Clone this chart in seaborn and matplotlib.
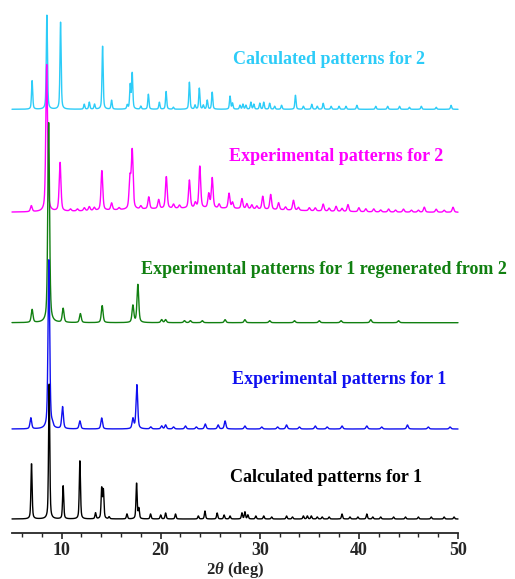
import numpy as np
import pandas as pd
import seaborn as sns
import matplotlib.pyplot as plt

# peak positions (2theta, deg) and heights, per pattern
calc2_pos = [7.03, 8.52, 9.90, 12.29, 12.80, 13.33, 14.14, 15.05, 16.63, 16.93, 17.13, 18.0, 18.76,
             19.87, 20.55, 21.28, 22.9, 23.47, 23.9, 24.3, 24.7, 25.2, 27.0, 27.25, 28.0, 28.3, 28.6,
             29.1, 29.4, 30.0, 30.4, 31.0, 31.5, 32.2, 33.6, 34.4, 35.25, 35.8, 36.4, 37.2, 38.0,
             38.7, 39.8, 41.7, 42.9, 44.1, 45.1, 46.3, 47.8, 49.3]
calc2_h = [29, 94, 87, 5, 7, 5, 63, 9, 4, 24, 36, 3, 15,
           7, 18, 2, 27, 4, 21, 4, 9, 17, 13, 6, 4, 5, 4,
           7, 5, 6, 7, 6, 3, 4, 14, 3, 5, 3, 6, 3, 3,
           3, 4, 3, 3, 3, 2, 3, 2, 4]

exp2_pos = [6.95, 8.50, 9.85, 10.9, 11.6, 12.3, 12.8, 13.3, 14.07, 15.05, 15.8, 16.9, 17.13, 18.0,
            18.8, 19.8, 20.57, 21.3, 21.9, 22.9, 23.5, 23.95, 24.85, 25.2, 25.9, 26.9, 27.25,
            28.2, 28.7, 29.2, 29.7, 30.3, 31.1, 31.9, 32.6, 33.4, 33.9, 35.0, 35.6, 36.4, 37.0,
            37.7, 38.3, 38.9, 40.0, 40.7, 41.5, 42.2, 43.0, 43.7, 44.5, 45.3, 46.0, 46.6, 47.8,
            48.6, 49.5]
exp2_h = [6, 147, 49, 2, 2, 3, 4, 3, 40, 7, 2, 30, 58, 3,
          12, 9, 32, 4, 3, 28, 5, 42, 14, 30, 4, 15, 6,
          10, 5, 4, 3, 13, 15, 7, 3, 10, 3, 3, 3, 7, 3,
          5, 3, 7, 4, 3, 3, 2, 3, 2, 3, 2, 2, 5, 3,
          2, 5]
# broad amorphous hump under pattern 2 (experimental)
exp2_bg = (24.0, 4.0, 22.0)

regen1_pos = [7.03, 8.70, 10.16, 11.9, 14.1, 17.2, 17.7, 20.1, 20.5, 22.4, 23.0, 24.2, 26.5,
              28.5, 31.0, 33.5, 36.0, 38.2, 41.2, 44.0]
regen1_h = [13, 200, 14, 9, 17, 17, 38, 3, 3, 2, 2, 2, 3,
            3, 2, 2, 2, 2, 3, 2]

exp1_pos = [6.90, 8.72, 9.07, 10.10, 11.85, 14.05, 17.2, 17.6, 19.0, 20.1, 20.5, 21.3, 22.5,
            23.6, 24.5, 25.8, 26.5, 28.5, 30.2, 31.8, 32.7, 34.0, 35.6, 36.8, 38.3, 40.8,
            42.3, 44.9, 47.0, 49.2]
exp1_h = [11, 169, 3, 22, 8, 11, 10, 44, 2, 3, 4, 2, 3,
          2, 5, 4, 8, 3, 2, 2, 4, 2, 3, 2, 3, 3,
          2, 4, 2, 2]

calc1_pos = [6.97, 8.75, 10.16, 11.85, 13.43, 14.05, 14.22, 14.8, 16.6, 17.57, 17.8, 18.98,
             20.0, 20.5, 21.5, 23.8, 24.47, 25.7, 26.4, 27.0, 28.2, 28.5, 28.8, 29.6, 30.4,
             31.2, 32.7, 33.3, 34.4, 34.8, 35.2, 35.8, 36.3, 37.0, 38.3, 39.1, 39.9, 40.8,
             41.4, 42.2, 43.5, 44.7, 46.0, 47.3, 48.6, 49.6]
calc1_h = [56, 137, 33, 59, 6, 30, 28, 2, 5, 36, 10, 5,
           4, 6, 5, 3, 8, 6, 4, 3, 6, 7, 4, 3, 3,
           2, 3, 2, 3, 3, 3, 2, 2, 2, 5, 2, 2, 5,
           2, 2, 2, 2, 2, 2, 2, 2]

names = ['Calculated patterns for 2', 'Experimental patterns for 2',
         'Experimental patterns for 1 regenerated from 2',
         'Experimental patterns for 1', 'Calculated patterns for 1']
colors = ['#2DCCF8', '#FF00FF', '#118011', '#1010F0', '#000000']
offsets = [424, 321, 210.6, 104.3, 14.3]
widths = [0.14, 0.21, 0.21, 0.20, 0.14]
peak_sets = [(calc2_pos, calc2_h), (exp2_pos, exp2_h), (regen1_pos, regen1_h),
             (exp1_pos, exp1_h), (calc1_pos, calc1_h)]
label_xy = [(329, 60), (336, 156), (324, 269), (339, 380), (326, 478)]

two_theta = np.arange(5, 50.001, 0.02)


def profile(pos, h, w):
    y = np.zeros_like(two_theta)
    for p, a in zip(pos, h):
        d = (two_theta - p) / (w / 2)
        y += a * (0.5 / (1 + d ** 2) + 0.5 * np.exp(-np.log(2) * d ** 2))
    return y


W, H = 515, 579
fig = plt.figure(figsize=(W / 100, H / 100), dpi=100)
sns.set_style('ticks')
plt.rcParams['font.family'] = ['Liberation Serif', 'DejaVu Serif']
plt.rcParams['mathtext.fontset'] = 'custom'
plt.rcParams['mathtext.it'] = 'Liberation Serif:italic:bold'
plt.rcParams['mathtext.rm'] = 'Liberation Serif:bold'

ax = fig.add_axes([12 / W, 1 - 533.3 / H, (458 - 12) / W, 533.3 / H])

for i, (name, col, off, w, (pos, h)) in enumerate(zip(names, colors, offsets, widths, peak_sets)):
    y = profile(pos, h, w) + off
    if i == 1:
        c, a, s = exp2_bg
        y = y + a * np.exp(-((two_theta - c) / (s / 2)) ** 2)
    df = pd.DataFrame({'x': two_theta, 'y': y})
    sns.lineplot(data=df, x='x', y='y', color=col, lw=1.0, ax=ax, clip_on=False)

for name, col, (px, py) in zip(names, colors, label_xy):
    fig.text(px / W, 1 - py / H, name, color=col, fontsize=13, fontweight='bold',
             ha='center', va='center')

ax.set_xlim(5, 50)
ax.set_ylim(0, 533.3)
ax.set_xticks([10, 20, 30, 40, 50])
ax.set_xticks(np.arange(6, 50, 2), minor=True)
ax.set_yticks([])
for s in ['left', 'right', 'top']:
    ax.spines[s].set_visible(False)
ax.spines['bottom'].set_linewidth(1.3)
ax.tick_params(axis='x', which='major', direction='out', length=4, width=1.2, labelsize=13, pad=2)
ax.tick_params(axis='x', which='minor', direction='out', length=3, width=1.0)
for t in ax.get_xticklabels():
    t.set_fontweight('bold')
ax.set_xlabel(r'2$\theta$ (deg)', fontsize=12, fontweight='bold', labelpad=1)
ax.set_ylabel('')
ax.patch.set_alpha(0)

fig.savefig('out.png', dpi=100)
